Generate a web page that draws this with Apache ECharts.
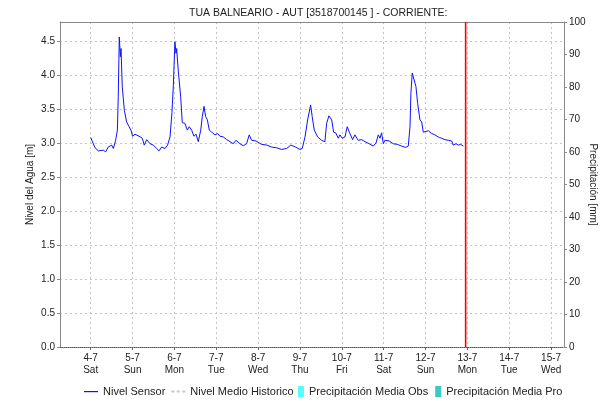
<!DOCTYPE html>
<html>
<head>
<meta charset="utf-8">
<script src="https://cdn.jsdelivr.net/npm/echarts@6/dist/echarts.min.js"></script>
<style>
html, body { margin: 0; padding: 0; background: #fff; }
#main { width: 603px; height: 412px; }
</style>
</head>
<body>
<div id="main"></div>
<script>
// dias del eje x (horas contadas desde 4-7 00:00)
var dayLabels = ['4-7', '5-7', '6-7', '7-7', '8-7', '9-7', '10-7', '11-7', '12-7', '13-7', '14-7', '15-7'];
var weekDays = ['Sat', 'Sun', 'Mon', 'Tue', 'Wed', 'Thu', 'Fri', 'Sat', 'Sun', 'Mon', 'Tue', 'Wed'];

// nivel sensor [m]
var sensorHours = [
  0, 2.5, 4.4, 7.2, 8.6, 10, 12, 13, 14.3, 15.3, 15.8, 16.4, 17, 17.4, 18.1, 19.3, 20.6, 22, 23.1,
  24, 25.4, 27.7, 29.6, 30.7, 32.1, 34, 35.9, 37.8, 39.2, 40.7, 42.6, 44.1, 45.5, 46.6, 47.4,
  48.3, 48.9, 49.3, 50.2, 51.6, 52.5, 54, 55.4, 56.5, 57.9, 59.2, 60.4, 61.7, 63.1, 64, 65, 65.9,
  66.9, 68, 69.4, 71.3, 72.8, 74.1, 76, 78, 79.9, 81.8, 83.3, 85.6, 87.5, 89.4, 90.9, 92.3, 94.8,
  96.7, 98.1, 100.9, 103.8, 106.6, 109.5, 112.4, 114.8, 117.5, 120, 121.3, 122.9, 124.4, 126.1,
  127, 128.2, 130.1, 132.4, 134.3, 135.3, 136.6, 138.2, 139.3, 140.5, 142, 142.9, 144.3, 145.8,
  147.1, 148.3, 150.2, 151.5, 153.4, 155.4, 157.3, 159.7, 162, 163.6, 164.9, 165.9, 166.8, 167.8,
  168.7, 171.2, 173.5, 175.8, 178.3, 180.6, 182.1, 183.1, 183.6, 184.4, 185.3, 186.5, 187.5,
  188.8, 189.8, 190.7, 191.7, 193.6, 195.5, 197.4, 199.9, 201.3, 203.1, 205, 207, 207.9, 209.5,
  210.8, 212.2, 213.7
];
var sensorLevel = [
  3.08, 2.93, 2.885, 2.895, 2.87, 2.94, 2.97, 2.92, 3.04, 3.19, 3.68, 4.56, 4.27, 4.39, 3.83, 3.48, 3.31, 3.24, 3.19,
  3.10, 3.13, 3.10, 3.07, 2.97, 3.05, 2.99, 2.97, 2.92, 2.885, 2.94, 2.92, 2.97, 3.09, 3.45, 3.85,
  4.49, 4.32, 4.39, 4.07, 3.68, 3.30, 3.29, 3.19, 3.24, 3.19, 3.10, 3.13, 3.02, 3.19, 3.39, 3.54, 3.39,
  3.34, 3.19, 3.16, 3.12, 3.14, 3.10, 3.09, 3.05, 3.02, 2.99, 3.04, 2.99, 2.96, 2.99, 3.12, 3.04, 3.03,
  3.00, 2.98, 2.97, 2.94, 2.93, 2.905, 2.92, 2.97, 2.94, 2.905, 2.92, 3.09, 3.34, 3.56,
  3.39, 3.19, 3.09, 3.04, 3.02, 3.29, 3.40, 3.34, 3.16, 3.15, 3.07, 3.12, 3.07, 3.09,
  3.24, 3.16, 3.05, 3.12, 3.04, 3.05, 3.02, 2.99, 2.955, 3.00, 3.12, 3.07, 3.15, 2.99,
  3.04, 3.03, 2.99, 2.98, 2.955, 2.935, 2.955, 3.24, 3.73, 4.03, 4.03, 3.83, 3.58,
  3.34, 3.31, 3.16, 3.16, 3.18, 3.14, 3.12, 3.08, 3.07, 3.05, 3.04, 3.03, 2.97, 2.99,
  2.97, 2.98, 2.955
];
var nowHour = 215;

var xMin = -17.6, xMax = 271.4;
var yMax = 4.78;
var dayTicks = dayLabels.map(function (d, i) { return i * 24; });
var sensorData = sensorHours.map(function (h, i) { return [h, sensorLevel[i]]; });

var font = 'Liberation Sans';
var txt = '#222';
var gridDot = { color: '#c4c4c4', type: [2, 3], width: 1 };

var myChart = echarts.init(document.getElementById('main'));
myChart.setOption({
  backgroundColor: '#fff',
  animation: false,
  title: {
    text: 'TUA BALNEARIO - AUT [3518700145 ] - CORRIENTE:',
    left: 184,
    top: 3,
    textStyle: { fontSize: 10.5, fontWeight: 'normal', color: txt, fontFamily: font }
  },
  grid: { left: 60, right: 39, top: 22, bottom: 65, containLabel: false, outerBoundsMode: 'none' },
  legend: [{
    left: 84,
    top: 386,
    padding: 0,
    itemWidth: 14,
    itemHeight: 10,
    itemGap: 6,
    textStyle: { fontSize: 11, color: txt, fontFamily: font },
    data: [
      { name: 'Nivel Sensor', icon: 'path://M0,0M0,4.5h14v1.2H0zM14,10' },
      { name: 'Nivel Medio Historico', icon: 'path://M0,0M0,4h3v2H0zM5.5,4h3v2h-3zM11,4h3v2h-3zM14,10' }
    ]
  }, {
    left: 298,
    top: 386,
    padding: 0,
    itemWidth: 6,
    itemHeight: 11,
    itemGap: 7,
    icon: 'rect',
    textStyle: { fontSize: 11, color: txt, fontFamily: font },
    data: ['Precipitación Media Obs', 'Precipitación Media Pro']
  }],
  xAxis: [{
    type: 'value',
    min: xMin,
    max: xMax,
    axisLine: { show: true, onZero: false, lineStyle: { color: '#555', type: [1, 1] } },
    axisTick: { show: true, length: 3, customValues: dayTicks, lineStyle: { color: '#666' } },
    axisLabel: {
      customValues: dayTicks,
      margin: 5,
      fontSize: 10,
      lineHeight: 12,
      color: txt,
      fontFamily: font,
      formatter: function (v) {
        var i = Math.round(v / 24);
        return dayLabels[i] + '\n' + weekDays[i];
      }
    },
    splitLine: { show: true, lineStyle: gridDot }
  }, {
    type: 'value',
    position: 'top',
    min: xMin,
    max: xMax,
    axisLine: { show: true, onZero: false, lineStyle: { color: '#888' } },
    axisTick: { show: false },
    axisLabel: { show: false },
    splitLine: { show: false }
  }],
  yAxis: [{
    type: 'value',
    min: 0,
    max: yMax,
    interval: 0.5,
    name: 'Nivel del Agua [m]',
    nameLocation: 'middle',
    nameGap: 25,
    nameRotate: 90,
    nameMoveOverlap: false,
    nameTextStyle: { fontSize: 10, color: txt, fontFamily: font },
    axisLine: { show: true, onZero: false, lineStyle: { color: '#888' } },
    axisTick: { show: true, length: 3, lineStyle: { color: '#888' } },
    axisLabel: {
      margin: 5, fontSize: 10, color: txt, fontFamily: font, showMaxLabel: false,
      formatter: function (v) { return v.toFixed(1); }
    },
    splitLine: { show: true, lineStyle: gridDot }
  }, {
    type: 'value',
    min: 0,
    max: 100,
    interval: 10,
    position: 'right',
    name: 'Precipitación [mm]',
    nameLocation: 'middle',
    nameGap: 24,
    nameRotate: -90,
    nameMoveOverlap: false,
    nameTextStyle: { fontSize: 10, color: txt, fontFamily: font },
    axisLine: { show: true, onZero: false, lineStyle: { color: '#888' } },
    axisTick: { show: true, length: 3, lineStyle: { color: '#888' } },
    axisLabel: { margin: 5, fontSize: 10, color: txt, fontFamily: font },
    splitLine: { show: false }
  }],
  series: [{
    name: 'Nivel Sensor',
    type: 'line',
    xAxisIndex: 0,
    yAxisIndex: 0,
    symbol: 'none',
    color: '#1010ff',
    lineStyle: { color: '#1010ff', width: 1 },
    data: sensorData
  }, {
    name: 'ahora',
    type: 'line',
    xAxisIndex: 0,
    yAxisIndex: 0,
    symbol: 'none',
    silent: true,
    z: 5,
    color: '#ff0000',
    lineStyle: { color: '#ff0000', width: 1.6 },
    data: [[nowHour, 0], [nowHour, yMax]]
  }, {
    name: 'Nivel Medio Historico',
    type: 'line',
    symbol: 'none',
    color: '#c8c8c8',
    lineStyle: { color: '#c8c8c8', width: 2, type: [3, 2] },
    data: []
  }, {
    name: 'Precipitación Media Obs',
    type: 'bar',
    yAxisIndex: 1,
    color: '#55ffff',
    data: []
  }, {
    name: 'Precipitación Media Pro',
    type: 'bar',
    yAxisIndex: 1,
    color: '#3cc8c8',
    data: []
  }]
});
</script>
</body>
</html>
